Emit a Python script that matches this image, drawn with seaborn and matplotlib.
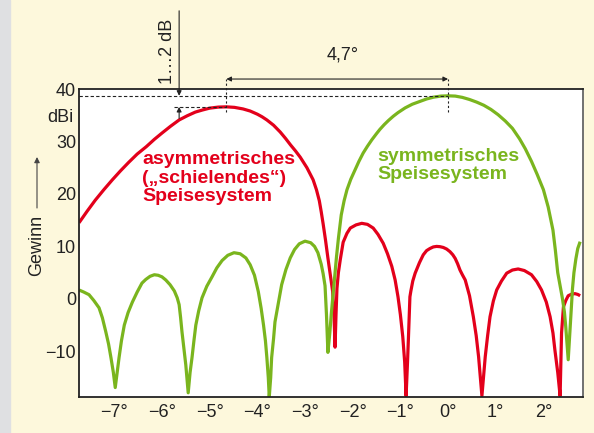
import numpy as np
import pandas as pd
import matplotlib
matplotlib.use("Agg")
import matplotlib.pyplot as plt
import seaborn as sns
from matplotlib.patches import Rectangle

# gain pattern (degrees, dBi)
sym_x = [-7.74, -7.64, -7.53, -7.43, -7.32, -7.25, -7.18, -7.12, -7.07, -7.02, -6.98, -6.94, -6.9,
         -6.85, -6.79, -6.71, -6.62, -6.52, -6.42, -6.34, -6.25, -6.16, -6.08, -6.0, -5.92, -5.83,
         -5.74, -5.68, -5.64, -5.61, -5.58, -5.54, -5.5, -5.45, -5.41, -5.37, -5.33, -5.29, -5.23,
         -5.16, -5.06, -4.95, -4.85, -4.74, -4.62, -4.49, -4.36, -4.24, -4.15, -4.06, -3.98, -3.92,
         -3.87, -3.83, -3.8, -3.77, -3.75, -3.72, -3.7, -3.66, -3.63, -3.56, -3.49, -3.4, -3.31,
         -3.22, -3.12, -3.0, -2.88, -2.8, -2.73, -2.66, -2.62, -2.58, -2.55, -2.52, -2.48, -2.45,
         -2.41, -2.38, -2.34, -2.3, -2.24, -2.18, -2.12, -2.04, -1.95, -1.87, -1.78, -1.69, -1.6,
         -1.5, -1.43, -1.34, -1.25, -1.15, -1.05, -0.9, -0.75, -0.6, -0.45, -0.3, -0.15, 0.0,
         0.15, 0.3, 0.45, 0.6, 0.75, 0.9, 1.05, 1.2, 1.35, 1.5, 1.62, 1.75, 1.87, 2.0, 2.1, 2.2,
         2.25, 2.3, 2.36, 2.4, 2.44, 2.47, 2.52, 2.55, 2.58, 2.61, 2.64, 2.68, 2.72, 2.77]
sym_y = [1.7, 1.3, 0.8, -0.3, -1.7, -3.6, -6.2, -8.6, -11.2, -14.0, -16.9, -14.0, -11.2,
         -8.0, -5.0, -2.6, -0.6, 1.3, 3.0, 3.7, 4.3, 4.6, 4.5, 4.2, 3.6, 2.7,
         1.5, 0.2, -1.1, -3.5, -6.3, -9.4, -12.6, -17.9, -14.0, -11.2, -8.0, -5.0, -2.3,
         0.2, 2.4, 4.2, 5.9, 7.3, 8.3, 8.8, 8.6, 7.8, 6.5, 4.5, 1.4, -1.8,
         -5.0, -8.0, -11.2, -15.0, -18.7, -15.0, -11.2, -7.6, -4.4, -0.8, 2.7, 5.6, 7.8,
         9.4, 10.5, 11.0, 10.7, 10.0, 8.8, 6.6, 4.8, 2.5, -3.0, -10.2, -6.5, -3.0,
         1.0, 4.0, 8.0, 11.5, 16.0, 18.7, 20.8, 22.8, 24.6, 26.2, 27.8, 29.1, 30.3,
         31.5, 32.3, 33.2, 34.0, 34.8, 35.5, 36.4, 37.1, 37.6, 38.1, 38.45, 38.65, 38.7,
         38.65, 38.4, 38.0, 37.5, 36.9, 36.1, 35.1, 33.9, 32.5, 30.5, 28.6, 26.2, 23.7, 20.8, 17.5, 13.1,
         9.3, 5.0, 2.0, 0.0, -2.5, -5.5, -11.6, -7.0, -2.5, 2.0, 5.0, 7.6, 9.6, 10.9]

asym_x = [-7.74, -7.57, -7.4, -7.22, -7.04, -6.87, -6.7, -6.52, -6.33, -6.16, -6.0, -5.82, -5.64,
          -5.47, -5.3, -5.15, -5.0, -4.82, -4.65, -4.48, -4.3, -4.15, -4.0, -3.9, -3.8, -3.66,
          -3.52, -3.41, -3.3, -3.2, -3.1, -2.96, -2.83, -2.76, -2.7, -2.66, -2.62, -2.57, -2.52,
          -2.47, -2.42, -2.39, -2.37, -2.35, -2.33, -2.3, -2.26, -2.2, -2.12, -2.05, -1.93, -1.81,
          -1.69, -1.57, -1.47, -1.36, -1.27, -1.18, -1.11, -1.05, -1.0, -0.95, -0.91, -0.88, -0.85,
          -0.83, -0.8, -0.78, -0.74, -0.69, -0.6, -0.52, -0.45, -0.38, -0.31, -0.24, -0.17, -0.1,
          -0.03, 0.04, 0.1, 0.15, 0.2, 0.25, 0.3, 0.36, 0.45, 0.53, 0.59, 0.64, 0.71, 0.78, 0.83,
          0.88, 0.95, 1.02, 1.12, 1.23, 1.35, 1.47, 1.6, 1.75, 1.86, 1.96, 2.06, 2.14, 2.2, 2.24,
          2.3, 2.35, 2.38, 2.42, 2.47, 2.52, 2.59, 2.66, 2.72, 2.77]
asym_y = [14.5, 16.7, 18.8, 20.8, 22.7, 24.4, 26.0, 27.6, 29.0, 30.4, 31.6, 32.9, 34.1,
          34.9, 35.6, 36.0, 36.35, 36.55, 36.6, 36.5, 36.2, 35.8, 35.2, 34.7, 34.1, 33.1,
          31.8, 30.6, 29.3, 28.2, 27.0, 25.0, 22.7, 20.8, 18.7, 16.6, 14.3, 11.2, 7.8,
          4.6, 1.4, -3.5, -9.2, -3.0, 2.0, 5.0, 7.5, 10.8, 12.5, 13.5, 14.1, 14.4,
          14.2, 13.5, 12.3, 10.6, 8.6, 6.2, 3.6, 0.4, -3.0, -7.2, -12.0, -18.5, -12.0,
          -7.2, 0.4, 1.5, 3.4, 4.9, 6.9, 8.4, 9.2, 9.6, 9.9, 10.0, 9.95, 9.8,
          9.5, 9.0, 8.4, 7.7, 6.7, 5.5, 4.6, 3.6, 0.6, -3.4, -7.0, -11.0, -18.5, -11.0, -7.0,
          -3.4, -0.4, 1.7, 3.4, 4.9, 5.5, 5.7, 5.4, 4.6, 3.3, 1.7, -0.6, -3.4, -6.5, -9.7,
          -14.0, -18.5, -6.5, -1.5, -0.3, 0.6, 0.9, 1.0, 0.85, 0.6]

x_ticks = [-7, -6, -5, -4, -3, -2, -1, 0, 1, 2]
y_ticks = [-10, 0, 10, 20, 30, 40]

red = "#e3001b"
green = "#7ab51e"
ink = "#222222"

sns.set_style("white")
plt.rcParams["font.family"] = ["Liberation Sans", "DejaVu Sans"]

fig = plt.figure(figsize=(5.94, 4.33), dpi=100, facecolor="#fdf8dc")
fig.patches.append(Rectangle((0, 0), 10 / 594, 1, transform=fig.transFigure,
                             color="#dfe0e2", zorder=0))
ax = fig.add_axes([79 / 594, 36 / 433, 504 / 594, 308 / 433])
ax.set_facecolor("white")

sym = pd.DataFrame({"x": sym_x, "y": sym_y})
asym = pd.DataFrame({"x": asym_x, "y": asym_y})
sns.lineplot(data=asym, x="x", y="y", sort=False, estimator=None, color=red, lw=2.3,
             solid_joinstyle="round", solid_capstyle="butt", ax=ax)
sns.lineplot(data=sym, x="x", y="y", sort=False, estimator=None, color=green, lw=2.3,
             solid_joinstyle="round", solid_capstyle="butt", ax=ax)

ax.set_xlim(-7.74, 2.83)
ax.set_ylim(-18.7, 40)
ax.set_xticks(x_ticks)
ax.set_xticklabels([f"{t}°".replace("-", "\u2212") for t in x_ticks])
ax.set_yticks(y_ticks)
ax.set_yticklabels([str(t).replace("-", "\u2212") for t in y_ticks])
ax.tick_params(direction="in", length=6, width=1, color="#555555", labelsize=13,
               labelcolor=ink)
ax.tick_params(axis="y", pad=2)
ax.tick_params(axis="x", pad=5)
ax.set_xlabel("")
ax.set_ylabel("")
for s in ax.spines.values():
    s.set_color(ink)
    s.set_linewidth(1.3)
ax.spines["right"].set_color("#666666")

# labels inside
ax.text(-6.41, 23.0, "asymmetrisches\n(\u201eschielendes\u201c)\nSpeisesystem", color=red,
        fontsize=14, fontweight="bold", ha="left", va="center", linespacing=1.1)
ax.text(-1.49, 25.4, "symmetrisches\nSpeisesystem", color=green,
        fontsize=14, fontweight="bold", ha="left", va="center", linespacing=1.1)

# dashed reference lines for the two peaks
ax.plot([-7.74, 0.0], [38.7, 38.7], color=ink, lw=0.8, ls=(0, (3, 2)), clip_on=False)
ax.plot([-5.74, -4.65], [36.6, 36.6], color=ink, lw=0.8, ls=(0, (3, 2)), clip_on=False)
for xv in [-4.65, 0.0]:
    ax.plot([xv, xv], [35.6, 41.9], color=ink, lw=0.8, ls=(0, (2, 2)), clip_on=False)

# 4,7° double arrow
ax.annotate("", xy=(-4.65, 41.9), xytext=(0.0, 41.9), annotation_clip=False,
            arrowprops=dict(arrowstyle="<|-|>", lw=0.8, color=ink,
                            mutation_scale=7, shrinkA=0, shrinkB=0))
ax.text(-2.2, 46.5, "4,7°", fontsize=13, ha="center", va="center", color=ink)

# 1...2 dB arrows
ax.annotate("", xy=(-5.64, 38.7), xytext=(-5.64, 54.9), annotation_clip=False,
            arrowprops=dict(arrowstyle="-|>", lw=0.8, color=ink,
                            mutation_scale=7, shrinkA=0, shrinkB=0))
ax.annotate("", xy=(-5.64, 36.6), xytext=(-5.64, 34.4), annotation_clip=False,
            arrowprops=dict(arrowstyle="-|>", lw=0.8, color=ink,
                            mutation_scale=7, shrinkA=0, shrinkB=0))
ax.text(-5.88, 47.2, "1\u20262 dB", fontsize=13, rotation=90, ha="center", va="center",
        color=ink)

# axis unit and label
ax.text(-7.86, 34.5, "dBi", fontsize=13, ha="right", va="center", color=ink)
fig.text(37 / 594, 1 - 245 / 433, "Gewinn", fontsize=13, rotation=90, ha="center",
         va="center", color=ink)
ax.annotate("", xy=(37 / 594, 1 - 157 / 433), xytext=(37 / 594, 1 - 208 / 433),
            xycoords="figure fraction", textcoords="figure fraction",
            arrowprops=dict(arrowstyle="-|>", lw=0.8, color="#444444",
                            mutation_scale=8, shrinkA=0, shrinkB=0))

fig.savefig("out.png", dpi=100, facecolor=fig.get_facecolor())
